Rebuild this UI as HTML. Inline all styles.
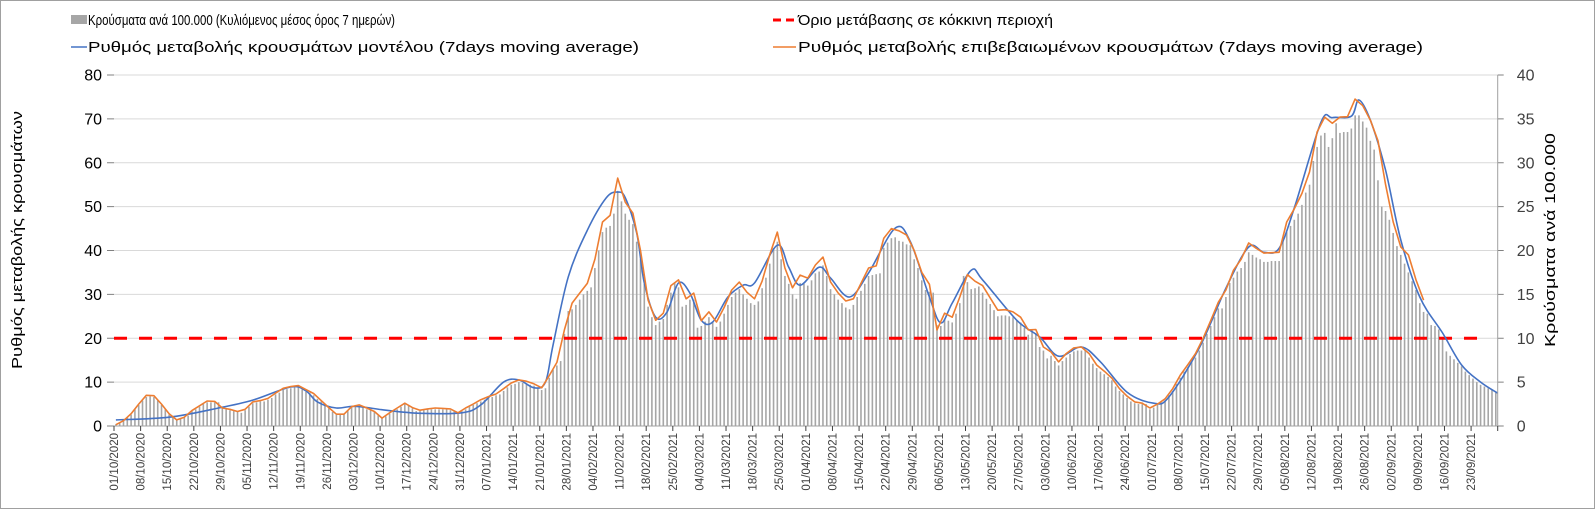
<!DOCTYPE html>
<html><head><meta charset="utf-8"><style>
html,body{margin:0;padding:0;background:#fff}
svg{display:block;font-family:"Liberation Sans",sans-serif}
</style></head><body>
<svg id="chart" width="1595" height="509" viewBox="0 0 1595 509" xmlns="http://www.w3.org/2000/svg">
<rect x="0.5" y="0.5" width="1594" height="508" fill="#fff" stroke="#a0a0a0"/>
<g id="grid"></g>
<g id="bars"></g>
<g id="lines"></g>
<g id="axes"></g>
<g id="legend">
 <g>
  <rect x="71" y="15" width="16" height="9" fill="#a6a6a6"/>
  <text x="88" y="25" font-size="15" textLength="307" lengthAdjust="spacingAndGlyphs">Κρούσματα ανά 100.000 (Κυλιόμενος μέσος όρος 7 ημερών)</text>
 </g>
 <g>
  <line x1="71" y1="47" x2="87" y2="47" stroke="#4472c4" stroke-width="1.5"/>
  <text x="88" y="52" font-size="15" textLength="551" lengthAdjust="spacingAndGlyphs">Ρυθμός μεταβολής κρουσμάτων μοντέλου (7days moving average)</text>
 </g>
 <g>
  <line x1="773" y1="20" x2="796" y2="20" stroke="#ff0000" stroke-width="3" stroke-dasharray="8,5"/>
  <text x="798" y="25" font-size="15" textLength="255" lengthAdjust="spacingAndGlyphs">Όριο μετάβασης σε κόκκινη περιοχή</text>
 </g>
 <g>
  <line x1="773" y1="47" x2="796" y2="47" stroke="#ed7d31" stroke-width="1.5"/>
  <text x="798" y="52" font-size="15" textLength="625" lengthAdjust="spacingAndGlyphs">Ρυθμός μεταβολής επιβεβαιωμένων κρουσμάτων (7days moving average)</text>
 </g>
</g>
<text transform="translate(22,240) rotate(-90)" text-anchor="middle" font-size="15" textLength="258" lengthAdjust="spacingAndGlyphs">Ρυθμός μεταβολής κρουσμάτων</text>
<text transform="translate(1555,240) rotate(-90)" text-anchor="middle" font-size="15" textLength="214" lengthAdjust="spacingAndGlyphs">Κρούσματα ανά 100.000</text>
</svg>
<script>
const leftTicks=[0,10,20,30,40,50,60,70,80];
const rightTicks=[0,5,10,15,20,25,30,35,40];
const threshold=20;
const nDays=364;
const startDate=[2020,9,1];
const bars=[0.2,0.4,0.6,1,1.3,1.9,2.4,2.9,3.3,3.4,
3.3,2.9,2.4,1.9,1.3,1,0.7,0.8,1,1.2,
1.7,1.9,2.2,2.5,2.7,2.7,2.7,2.7,2,1.9,
1.8,1.7,1.6,1.5,1.8,2.2,2.6,2.7,2.8,2.8,
3,3.2,3.6,3.8,4.1,4.2,4.3,4.4,4.4,4.2,
3.9,3.8,3.5,3.1,2.8,2.4,2,1.6,1.3,1.3,
1.3,1.7,2.1,2.4,2.3,2.1,1.9,1.9,1.6,1.2,
0.9,1.1,1.4,1.7,1.9,2.2,2.5,2.3,2,1.7,
1.7,1.8,1.9,1.9,1.9,1.9,1.9,1.9,1.8,1.7,
1.4,1.7,1.9,2.2,2.4,2.6,2.8,3,3.2,3.3,
3.5,3.6,4,4.4,4.7,4.8,5,4.9,4.8,4.7,
4.6,4.4,4.1,4.3,5.5,6.4,6.9,7.4,10.5,13.1,
13.3,13.8,14.4,15,15.4,15.8,18,20,22.1,22.6,
22.8,24.2,26.8,25.6,24.2,23.5,23,21,19,16.2,
13.6,12.4,11.5,11.9,12.2,13.8,15.2,16.3,15.8,13.6,
13.8,14.4,14.4,11.2,11.4,11.9,12.4,11.9,11.3,11.9,
12.8,13.8,14.7,15.2,15.6,15,14.5,14,13.8,14.2,
15.7,16.9,18.5,20.3,21,19,17.1,16.2,15,14.5,
16.3,16.2,16,16.6,17.4,17.6,18.3,17.1,15.6,15,
14.4,14,13.5,13.3,13.8,14.7,15.4,16.2,17.1,17.2,
17.3,17.4,20.3,20.9,21.4,21.5,21.1,21,20.7,20.6,
19,18,16.6,15.5,15.3,15.2,11.5,11.4,12.2,12,
11.8,12.8,14,17.1,16.4,15.6,15.7,15.9,15.2,14.5,
13.9,13.2,12.5,12.6,12.6,12.5,12.4,12.1,11.8,11.2,
10.4,11,10.5,9,8.6,7.7,8,7.4,6.9,7.4,
7.8,8.2,8.5,8.6,8.6,8.6,7.8,7.1,6.6,6.2,
5.9,5.6,5.2,4.5,4,3.6,3.2,2.8,2.6,2.5,
2.5,2.5,1.9,2.1,2.4,2.7,2.9,3.5,4,4.8,
5.5,6.2,6.7,7.3,7.8,8.6,9.5,10.5,11.4,12.4,
13.4,13.4,14.7,16.3,16.9,17.6,18,18.7,19.8,19.5,
19.2,19,18.7,18.7,18.8,18.8,18.8,21.5,22.1,22.8,
23.5,24.2,25.2,26.6,27.5,30.2,31.8,33.1,33.4,31.8,
32.8,34.5,33.4,33.5,33.5,33.9,35.4,35.4,34.7,34,
32.5,31.5,28,25,24.5,23.5,22,20.5,19.5,18.5,
17.5,16.5,15.5,14,13,12.8,11.5,11.4,11,10,
8.5,8,7.6,7.2,6.8,6.2,5.8,5.4,5,4.7,
4.5,4.3,4.1,3.8];
const orangeStep=2;
const orange=[0.3,1.2,2.8,5,7,6.9,5,2.8,1.4,2,3.5,4.6,5.7,5.6,4.1,3.8,3.3,3.8,5.5,5.8,
6.3,7.5,8.6,9,9.2,8.3,7.4,5.8,4.2,2.7,2.7,4.4,4.8,4.1,3.3,1.8,3,4.1,5.2,4.2,
3.6,3.9,4.1,4,3.9,3,4.1,5,6,6.7,7.3,8.5,9.8,10.5,10.2,9.6,8.7,11.5,14.5,22,
28,30.3,32.5,38,46.5,48,56.5,51,48.5,40,28.7,24.1,25.7,32,33.3,29,30.3,24,26,23.7,
27,31,32.8,30.5,29,33,39,44.2,36,31.5,34.4,33.7,36.7,38.5,32.8,30.3,28.5,29,32.5,36,
36.5,42.8,45,44.5,43.5,40,35,32.3,21.9,25.7,24.8,29.4,34.5,33,32,29.2,26.4,26.5,26,24.8,
21.9,22,18,16.9,14.6,16.5,17.8,18,16.5,13.9,12.5,10.9,8.5,6.8,5.5,5.2,4.1,5,6.2,8.5,
11.6,14,16.5,20,24,28.2,31,35.5,38,41.7,40.5,39.4,39.5,39.6,46.5,49.5,53,57.9,67,70.4,
69,70.4,70.5,74.5,73,69.7,65,55,46.5,40.8,39,33.3,28.7];
const blueDays=[0,14,27,36,46,50,53,58,63,71,80,91,96,102,106,110,113,115,119,124,129,132,134,137,139,142,145,148,151,154,157,161,165,168,174,177,180,185,188,193,198,205,209,214,217,220,225,228,237,243,248,254,259,266,273,277,285,292,298,302,306,310,317,320,325,327,330,334,338,343,349,354,359,363.5];
const blueVals=[1.4,2,4.1,5.9,8.9,8,5.5,4.1,4.5,3.6,2.9,3,4.8,10,10.5,8.7,10,18.5,34,44.6,52,53.3,52,44,32.6,24.8,26,32.6,30.3,24.1,23.7,29.4,32.1,32.6,41.2,36.2,32.1,36.2,33.7,29.4,34.9,45.1,42,29.4,23.5,28,35.5,33.3,24.1,20.3,15.9,18,14.6,7.7,5.2,6.6,17.8,31.4,40.8,39.6,40.5,49.7,69.2,70.3,70.6,74.3,69.7,58.3,42.4,29.4,21.2,13.9,10,7.5];

const NS='http://www.w3.org/2000/svg';
const X0=114,X1=1497.7,Y0=426,Y1=75;
const dayW=(X1-X0)/nDays;
function xDay(d){return X0+(d+0.5)*dayW;}
function xTick(d){return X0+d*dayW;}
function yL(v){return Y0-(v/80)*(Y0-Y1);}
function yR(v){return Y0-(v/40)*(Y0-Y1);}
function mk(tag,attrs,parent){const e=document.createElementNS(NS,tag);for(const k in attrs)e.setAttribute(k,attrs[k]);parent.appendChild(e);return e;}
const grid=document.getElementById('grid'),barsG=document.getElementById('bars'),linesG=document.getElementById('lines'),axes=document.getElementById('axes');

leftTicks.forEach(v=>{
 if(v>0){const g=mk('line',{x1:X0,x2:X1,y1:yL(v),y2:yL(v),stroke:'#d9d9d9','stroke-width':1},grid);
 
 }
 const t=mk('line',{x1:X0-7,x2:X0,y1:yL(v),y2:yL(v),stroke:'#808080','stroke-width':1},axes);
 
 
 const l=mk('text',{x:X0-12,y:yL(v)+5.5,'text-anchor':'end','font-size':16},axes);
 l.textContent=v;
 
 
});
rightTicks.forEach(v=>{
 const t=mk('line',{x1:X1,x2:X1+6,y1:yR(v),y2:yR(v),stroke:'#808080','stroke-width':1},axes);
 
 
 const l=mk('text',{x:X1+19,y:yR(v)+5.5,'font-size':16,fill:'#404040'},axes);
 l.textContent=v;
 
 
});
bars.forEach((v,i)=>{
 const h=Y0-yR(v);
 const r=mk('rect',{x:xDay(i)-0.8,y:yR(v),width:1.6,height:h,fill:'#a6a6a6'},barsG);
 
 
});
const thr=mk('line',{x1:X0,x2:1488,y1:yL(threshold),y2:yL(threshold),stroke:'#ff0000','stroke-width':3,'stroke-dasharray':'13,12'},linesG);



function smoothPath(pts){
 let d='M'+pts[0][0].toFixed(1)+','+pts[0][1].toFixed(1);
 for(let i=0;i<pts.length-1;i++){
  const p0=pts[Math.max(0,i-1)],p1=pts[i],p2=pts[i+1],p3=pts[Math.min(pts.length-1,i+2)];
  const c1x=p1[0]+(p2[0]-p0[0])/6,c1y=p1[1]+(p2[1]-p0[1])/6;
  const c2x=p2[0]-(p3[0]-p1[0])/6,c2y=p2[1]-(p3[1]-p1[1])/6;
  d+='C'+c1x.toFixed(1)+','+c1y.toFixed(1)+' '+c2x.toFixed(1)+','+c2y.toFixed(1)+' '+p2[0].toFixed(1)+','+p2[1].toFixed(1);
 }
 return d;
}
const bp=mk('path',{d:smoothPath(blueDays.map((d,i)=>[xDay(d),yL(blueVals[i])])),fill:'none',stroke:'#4472c4','stroke-width':1.6},linesG);


const op=mk('path',{d:'M'+orange.map((v,i)=>xDay(i*orangeStep).toFixed(1)+','+yL(v).toFixed(1)).join('L'),fill:'none',stroke:'#ed7d31','stroke-width':1.6,'stroke-linejoin':'round'},linesG);



const ax=mk('line',{x1:X0,x2:X1,y1:Y0,y2:Y0,stroke:'#a0a0a0','stroke-width':1},axes);


const ra=mk('line',{x1:X1,x2:X1,y1:Y1,y2:Y0,stroke:'#a0a0a0','stroke-width':1},axes);


const sd=new Date(startDate[0],startDate[1],startDate[2]);
for(let d=0;d<=nDays;d+=7){
 const t=mk('line',{x1:xTick(d),x2:xTick(d),y1:Y0,y2:Y0+5,stroke:'#404040','stroke-width':1},axes);
 
 
 if(d<nDays){
  const dt=new Date(sd.getTime());dt.setDate(dt.getDate()+d);
  const s=String(dt.getDate()).padStart(2,'0')+'/'+String(dt.getMonth()+1).padStart(2,'0')+'/'+dt.getFullYear();
  const l=mk('text',{transform:'translate('+(xTick(d)+4)+','+(Y0+7)+') rotate(-90)','text-anchor':'end','font-size':11.5,fill:'#404040'},axes);
  l.textContent=s;
  
  
 }
}
</script>
</body></html>
